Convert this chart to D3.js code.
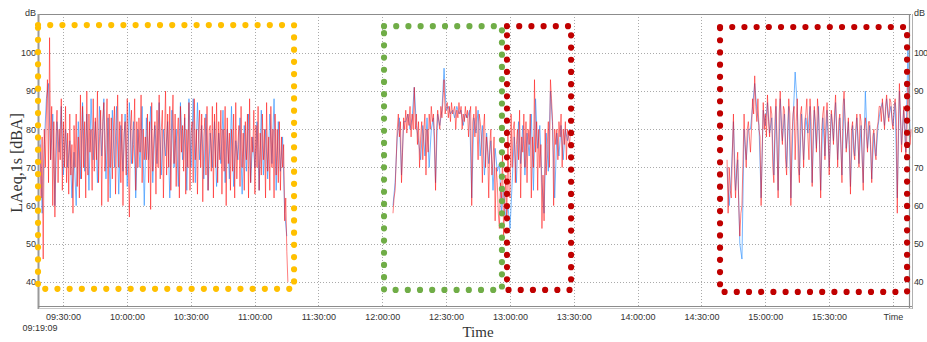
<!DOCTYPE html>
<html>
<head>
<meta charset="utf-8">
<script src="https://cdn.jsdelivr.net/npm/d3@7"></script>
<style>
  body { margin: 0; background: #fff; }
  svg { display: block; font-family: "Liberation Sans", Arial, sans-serif; }
  .tick text { fill: #333; font-size: 9px; }
  .grid line { stroke: #aaa; stroke-width: 1; stroke-dasharray: 1,2; }
</style>
</head>
<body>
<div id="chart"></div>
<script>
// time window of the plot
const startTime = "09:19:09";
const endTime = "16:08:30";
const redStepSeconds = 30;
const blueStepSeconds = 60;

// three measurement runs (dBA)
const segmentStarts = ["09:19:09", "12:05:03", "14:42:03"];

const red1 = [76,62,78,46,80,70,84,93,66,104,72,86,60,82,57,78,85,66,80,72,
  88,64,82,70,86,66,79,63,84,68,76,58,81,70,84,65,78,62,89,67,
  86,70,82,62,90,68,84,74,80,64,88,69,83,72,90,66,78,85,60,82,
  87,69,76,88,61,84,70,83,67,80,86,63,78,89,70,82,66,84,60,79,
  82,68,88,72,57,80,85,71,76,88,64,82,70,83,74,89,66,80,72,78,
  72,84,66,82,59,87,69,78,82,63,85,70,89,67,80,85,62,78,90,68,
  84,70,86,64,80,89,71,84,65,78,83,62,86,74,81,69,84,63,80,70,
  87,64,79,82,66,88,72,80,63,78,85,70,84,61,78,83,68,86,64,80,
  81,69,86,62,84,70,87,66,82,72,85,63,80,69,86,60,83,71,79,64,
  80,69,84,62,87,67,76,81,65,86,70,79,64,82,72,84,62,88,66,78,
  74,85,63,81,70,86,64,79,68,84,72,80,62,87,69,78,64,86,70,80,
  62,84,68,80,66,82,64,78,70,76,56,62,48,40];
const blue1 = [78,58,76,88,92,72,84,60,82,74, 86,68,80,70,77,62,74,60,82,67,
  87,69,84,64,88,72,82,66,86,73, 88,67,83,62,85,70,86,63,81,69,
  84,65,87,71,82,62,80,70,86,60, 83,72,86,66,81,71,87,68,80,73,
  82,62,85,70,80,65,87,72,83,64, 88,70,88,66,87,72,81,67,84,64,
  79,70,82,65,79,71,85,66,80,67, 86,65,77,72,83,63,81,69,84,66,
  78,70,82,64,85,68,80,67,84,71, 88,64,82,69,78,58,52];

const red2 = [58,62,64,72,80,84,78,82,66,74,83,80,85,79,84,81,86,78,84,80,
  91,80,84,76,82,70,78,82,72,80,84,68,80,74,84,80,86,82,84,78,
  64,80,85,82,80,86,83,88,93,84,86,87,83,86,82,87,84,85,86,80,
  85,83,87,84,86,80,84,82,86,83,85,78,84,86,60,82,84,78,86,80,
  72,84,82,78,66,80,84,70,78,74,62,76,80,68,72,78,56,70,66,58,
  54,66,62,74,52,60,68,56,80,64,62,84,70,80,82,66,76,80,72,85,
  62,78,74,84,70,82,66,80,76,84,62,78,70,93,74,82,64,80,70,76,
  54,68,56,80,68,76,82,70,93,88,82,60,80,76,80,72,82,78,84,70,
  80,76,82,72,80,78,76,80];
const blue2 = [60,66,78,83,68,82,82,84,80,83, 91,81,77,72,81,73,83,70,80,83,
  66,84,81,85,96,85,86,84,85,83, 86,84,85,81,84,83,85,62,83,79,
  85,73,81,68,79,71,77,64,75,69, 71,58,65,56,60,54,66,78,66,82,
  71,81,68,79,73,84,64,88,75,81, 66,58,79,69,90,81,62,79,73,81,
  72,80,77,80];

const red3 = [72,58,70,64,62,74,84,68,62,70,74,60,52,58,60,72,84,76,70,80,
  82,78,74,80,88,84,94,86,82,88,80,78,60,74,87,80,84,78,89,82,
  78,86,84,70,66,82,88,76,62,84,90,80,76,86,85,72,68,80,88,84,
  60,78,84,86,72,82,88,70,66,84,86,78,70,82,84,88,78,72,88,82,
  65,80,86,82,74,88,84,76,62,80,84,86,72,82,87,80,68,78,85,82,
  76,84,89,80,70,82,84,76,66,86,90,82,74,78,83,76,63,80,82,74,
  72,80,84,78,70,84,82,72,64,80,83,78,74,82,82,76,66,78,80,74,
  72,80,82,86,86,82,88,84,80,86,89,84,82,88,87,82,80,86,88,84,
  58,80,92,84,74,80,86,82,72,78,92,86,76,80];
const blue3 = [70,60,68,82,64,72,50,46,80,72, 80,80,86,92,85,81,62,85,81,87,
  79,83,68,86,64,88,77,84,70,86, 62,82,95,86,68,84,72,83,79,86,
  66,85,75,86,64,83,73,85,70,84, 77,87,72,83,68,88,75,82,65,81,
  73,83,71,81,66,90,75,81,67,79, 73,81,85,87,81,88,83,86,81,87,
  62,90,76,85,74,101,78];

const yTicks = [40, 50, 60, 70, 80, 90, 100];
const xTicks = ["09:30:00","10:00:00","10:30:00","11:00:00","11:30:00","12:00:00","12:30:00",
  "13:00:00","13:30:00","14:00:00","14:30:00","15:00:00","15:30:00","16:00:00"];
const xTickLabels = ["09:30:00","10:00:00","10:30:00","11:00:00","11:30:00","12:00:00","12:30:00",
  "13:00:00","13:30:00","14:00:00","14:30:00","15:00:00","15:30:00","Time"];

// highlighted periods (time from / to, dB top / bottom)
const boxFrom = ["09:18:13", "12:00:50", "12:58:38", "14:38:45"];
const boxTo = ["11:18:33", "12:56:15", "13:28:45", "16:06:39"];
const boxTop = [107.3, 107.0, 107.0, 106.8];
const boxBottom = [38.2, 37.9, 37.9, 37.4];

const boxColors = ["#ffc000", "#70ad47", "#c00000", "#c00000"];

const W = 927, H = 342;
const pLeft = 40, pRight = 911, pTop = 14, pBottom = 306;
const parse = d3.timeParse("%H:%M:%S");

const x = d3.scaleTime().domain([parse(startTime), parse(endTime)]).range([pLeft, pRight]);
const y = d3.scaleLinear().domain([33.7, 110.2]).range([pBottom, pTop]);

const svg = d3.select("#chart").append("svg")
  .attr("width", W).attr("height", H);

// grid
const grid = svg.append("g").attr("class", "grid");
grid.selectAll(".gx").data(xTicks).enter().append("line")
  .attr("x1", d => Math.round(x(parse(d))) + 0.5).attr("x2", d => Math.round(x(parse(d))) + 0.5)
  .attr("y1", pTop).attr("y2", pBottom + 4);
grid.selectAll(".gy").data(yTicks).enter().append("line")
  .attr("x1", 38).attr("x2", pRight)
  .attr("y1", d => Math.round(y(d)) + 0.5).attr("y2", d => Math.round(y(d)) + 0.5);

// series
const segments = [
  { start: segmentStarts[0], red: red1, blue: blue1 },
  { start: segmentStarts[1], red: red2, blue: blue2 },
  { start: segmentStarts[2], red: red3, blue: blue3 }
];

function lineFor(start, step) {
  const t0 = parse(start).getTime();
  return d3.line()
    .x((d, i) => x(new Date(t0 + i * step * 1000)))
    .y(d => y(d));
}

segments.forEach(seg => {
  svg.append("path").attr("d", lineFor(seg.start, blueStepSeconds)(seg.blue))
    .attr("fill", "none").attr("stroke", "#3a97ff")
    .attr("stroke-width", 1).attr("stroke-opacity", 0.7);
  svg.append("path").attr("d", lineFor(seg.start, redStepSeconds)(seg.red))
    .attr("fill", "none").attr("stroke", "#ff0000")
    .attr("stroke-width", 1).attr("stroke-opacity", 0.5);
});

// frame
svg.append("line").attr("x1", 38).attr("x2", pRight).attr("y1", pTop + 0.5).attr("y2", pTop + 0.5)
  .attr("stroke", "#8c8c8c").attr("stroke-width", 1.2);
svg.append("line").attr("x1", 38.5).attr("x2", 38.5).attr("y1", pTop).attr("y2", pBottom + 3)
  .attr("stroke", "#9a9a9a").attr("stroke-width", 2);
svg.append("line").attr("x1", 38).attr("x2", pRight + 2).attr("y1", pBottom + 0.5).attr("y2", pBottom + 0.5)
  .attr("stroke", "#8c8c8c").attr("stroke-width", 1.2);
svg.append("line").attr("x1", 40).attr("x2", pRight + 2).attr("y1", pBottom + 2.5).attr("y2", pBottom + 2.5)
  .attr("stroke", "#c8c8c8").attr("stroke-width", 1);
svg.append("line").attr("x1", pRight - 1.5).attr("x2", pRight - 1.5).attr("y1", pTop).attr("y2", pBottom + 2)
  .attr("stroke", "#8c8c8c").attr("stroke-width", 1.2);
svg.append("line").attr("x1", pRight + 1.5).attr("x2", pRight + 1.5).attr("y1", pTop).attr("y2", pBottom + 3)
  .attr("stroke", "#b0b0b0").attr("stroke-width", 1);

// axes
const yLeft = d3.axisLeft(y).tickValues(yTicks).tickSize(0).tickPadding(2);
svg.append("g").attr("transform", "translate(38,0)").call(yLeft)
  .call(g => g.select(".domain").remove());
const yRight = d3.axisRight(y).tickValues(yTicks).tickSize(0).tickPadding(1);
svg.append("g").attr("transform", "translate(" + (pRight + 2) + ",0)").call(yRight)
  .call(g => g.select(".domain").remove())
  .call(g => g.selectAll("text").style("letter-spacing", "-0.5px"));

const xAxis = d3.axisBottom(x).tickValues(xTicks.map(parse))
  .tickFormat((d, i) => xTickLabels[i]).tickSize(0).tickPadding(8);
svg.append("g").attr("transform", "translate(0," + pBottom + ")").call(xAxis)
  .call(g => g.select(".domain").remove());

svg.append("text").attr("x", x(parse(startTime))).attr("y", 331)
  .attr("text-anchor", "middle").attr("font-size", 9).attr("fill", "#333").text(startTime);

svg.append("text").attr("x", 36).attr("y", 16).attr("text-anchor", "end")
  .attr("font-size", 9).attr("fill", "#333").text("dB");
svg.append("text").attr("x", pRight + 3).attr("y", 16).attr("text-anchor", "start")
  .attr("font-size", 9).attr("fill", "#333").text("dB");

// titles
svg.append("text").attr("transform", "translate(22,163) rotate(-90)")
  .attr("text-anchor", "middle").attr("font-family", "'Liberation Serif', 'Times New Roman', serif")
  .attr("font-size", 16).attr("fill", "#333").text("LAeq,1s [dBA]");
svg.append("text").attr("x", 478).attr("y", 337)
  .attr("text-anchor", "middle").attr("font-family", "'Liberation Serif', 'Times New Roman', serif")
  .attr("font-size", 15).attr("fill", "#333").text("Time");

// dotted highlight boxes
svg.selectAll(".box").data(boxFrom).enter().append("rect")
  .attr("class", "box")
  .attr("x", (d, i) => x(parse(d)))
  .attr("y", (d, i) => y(boxTop[i]))
  .attr("width", (d, i) => x(parse(boxTo[i])) - x(parse(d)))
  .attr("height", (d, i) => y(boxBottom[i]) - y(boxTop[i]))
  .attr("fill", "none")
  .attr("stroke", (d, i) => boxColors[i])
  .attr("stroke-width", 6.2)
  .attr("stroke-linecap", "round")
  .attr("stroke-dasharray", "0 12.2");
</script>
</body>
</html>
